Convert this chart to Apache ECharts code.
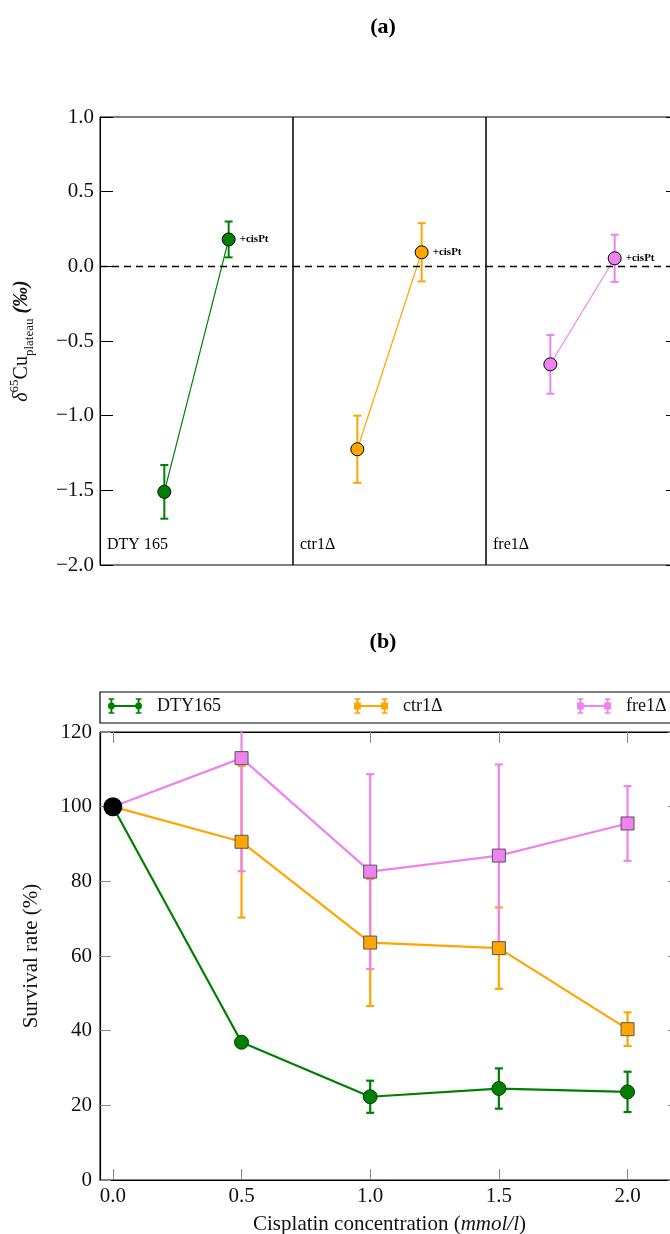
<!DOCTYPE html>
<html>
<head>
<meta charset="utf-8">
<script src="https://cdn.jsdelivr.net/npm/echarts@6/dist/echarts.min.js"></script>
<style>html,body{margin:0;padding:0;background:#fff;}#c{width:670px;height:1234px;}</style>
</head>
<body>
<div id="c"></div>
<script>
// ---------- Panel (a) data ----------
const aGroups = ['DTY 165', 'ctr1Δ', 'fre1Δ'];
const aPos = [1, 2];                       // before / +cisPt positions
const aBefore = [-1.51, -1.225, -0.656];
const aBeforeErr = [0.18, 0.225, 0.197];
const aAfter = [0.18, 0.094, 0.054];
const aAfterErr = [0.12, 0.195, 0.158];
const aPointLabel = '+cisPt';
const aYTicks = [-2.0, -1.5, -1.0, -0.5, 0.0, 0.5, 1.0];

// ---------- Panel (b) data ----------
const bSeriesNames = ['DTY165', 'ctr1Δ', 'fre1Δ'];
const conc = [0, 0.5, 1.0, 1.5, 2.0];
const dtyMean = [100, 36.9, 22.3, 24.5, 23.6];
const dtyErr  = [0, 0.8, 4.3, 5.4, 5.4];
const ctrMean = [100, 90.6, 63.6, 62.1, 40.4];
const ctrErr  = [0, 20.3, 17.0, 10.9, 4.5];
const freMean = [100, 113.0, 82.6, 86.9, 95.5];
const freErr  = [0, 30.3, 26.1, 24.4, 10.0];
const bXTicks = [0, 0.5, 1.0, 1.5, 2.0];

// ---------- styles ----------
const SERIF = '"Liberation Serif", "DejaVu Serif", serif';
const COLORS = ['#008000', '#FFA500', '#EE82EE'];
const fmtMinus = v => (v < 0 ? '\u2212' : '') + Math.abs(v).toFixed(1);

function errRender(color, lw, capW) {
  return function (params, api) {
    const x = api.value(0), m = api.value(1), e = api.value(2);
    if (!e) return null;
    const top = api.coord([x, m + e]);
    const bot = api.coord([x, m - e]);
    const cs = params.coordSys;
    const yTop = Math.max(top[1], cs.y);
    const yBot = Math.min(bot[1], cs.y + cs.height);
    const st = { stroke: color, lineWidth: lw };
    const ch = [{ type: 'line', shape: { x1: top[0], y1: yTop, x2: top[0], y2: yBot }, style: st }];
    if (top[1] >= cs.y) ch.push({ type: 'line', shape: { x1: top[0] - capW / 2, y1: top[1], x2: top[0] + capW / 2, y2: top[1] }, style: st });
    if (bot[1] <= cs.y + cs.height) ch.push({ type: 'line', shape: { x1: bot[0] - capW / 2, y1: bot[1], x2: bot[0] + capW / 2, y2: bot[1] }, style: st });
    return { type: 'group', children: ch };
  };
}

const chart = echarts.init(document.getElementById('c'), null, { renderer: 'canvas' });

const A_TOP = 117, A_H = 448, A_LEFT = 100, A_W = 193;
const B_TOP = 732, B_H = 448, B_LEFT = 100, B_W = 579;

const grids = [0, 1, 2].map(i => ({
  left: A_LEFT + i * A_W, top: A_TOP, width: A_W, height: A_H,
  outerBoundsMode: 'none', containLabel: false,
  show: true, borderColor: '#000', borderWidth: 1, backgroundColor: 'transparent'
}));
grids.push({ left: B_LEFT, top: B_TOP, width: B_W, height: B_H, outerBoundsMode: 'none', containLabel: false,
  show: true, borderColor: '#000', borderWidth: 1 });

const xAxes = [0, 1, 2].map(i => ({ gridIndex: i, type: 'value', min: 0, max: 3, show: false }));
const tickGrey = { show: true, inside: true, length: 11, lineStyle: { color: '#888', width: 1 } };
xAxes.push({
  gridIndex: 3, type: 'value', min: -0.05, max: 2.2, position: 'bottom',
  axisLine: { show: true, onZero: false, lineStyle: { color: '#000', width: 1.2 } },
  axisTick: Object.assign({ customValues: bXTicks }, tickGrey),
  axisLabel: { customValues: bXTicks, formatter: v => v.toFixed(1), fontFamily: SERIF, fontSize: 21, color: '#111', margin: 6 },
  splitLine: { show: false },
  name: '{n|Cisplatin concentration (}{i|mmol/l}{n|)}', nameLocation: 'middle', nameGap: 34,
  nameTextStyle: { rich: {
    n: { fontFamily: SERIF, fontSize: 21, color: '#111' },
    i: { fontFamily: SERIF, fontSize: 21, fontStyle: 'italic', color: '#111' } } }
});
xAxes.push({
  gridIndex: 3, type: 'value', min: -0.05, max: 2.2, position: 'top',
  axisLine: { show: true, onZero: false, lineStyle: { color: '#000' } },
  axisTick: Object.assign({ customValues: bXTicks }, tickGrey),
  axisLabel: { show: false }, splitLine: { show: false }
});

const yAxes = [
  {
    gridIndex: 0, type: 'value', min: -2, max: 1, interval: 0.5,
    axisLine: { show: true, onZero: false, lineStyle: { color: '#000' } },
    axisTick: { show: true, inside: true, length: 13, lineStyle: { color: '#000' } },
    axisLabel: { formatter: fmtMinus, fontFamily: SERIF, fontSize: 21, color: '#111', margin: 6 },
    splitLine: { show: false },
    name: '{d|δ}{sup|65}{n|Cu}{sub|plateau}{n| }{b|(‰)}', nameLocation: 'middle', nameRotate: 90, nameGap: 64,
    nameTextStyle: { rich: {
      d: { fontFamily: SERIF, fontSize: 20, fontStyle: 'italic', color: '#111', lineHeight: 28 },
      sup: { fontFamily: SERIF, fontSize: 13, color: '#111', verticalAlign: 'top', lineHeight: 14 },
      n: { fontFamily: SERIF, fontSize: 20, color: '#111', lineHeight: 28 },
      sub: { fontFamily: SERIF, fontSize: 13, color: '#111', verticalAlign: 'bottom', lineHeight: 12 },
      b: { fontFamily: SERIF, fontSize: 20, fontWeight: 'bold', fontStyle: 'italic', color: '#111', lineHeight: 28 } } }
  },
  { gridIndex: 1, type: 'value', min: -2, max: 1, show: false },
  {
    gridIndex: 2, type: 'value', min: -2, max: 1, interval: 0.5, position: 'right',
    axisLine: { show: true, onZero: false, lineStyle: { color: '#000' } },
    axisTick: { show: true, inside: true, length: 13, lineStyle: { color: '#000' } },
    axisLabel: { show: false }, splitLine: { show: false }
  },
  {
    gridIndex: 3, type: 'value', min: 0, max: 120, interval: 20,
    axisLine: { show: true, onZero: false, lineStyle: { color: '#000', width: 1.2 } },
    axisTick: tickGrey,
    axisLabel: { fontFamily: SERIF, fontSize: 21, color: '#111', margin: 8 },
    splitLine: { show: false },
    name: 'Survival rate (%)', nameLocation: 'middle', nameRotate: 90, nameGap: 58,
    nameTextStyle: { fontFamily: SERIF, fontSize: 21, color: '#111' }
  },
  {
    gridIndex: 3, type: 'value', min: 0, max: 120, interval: 20, position: 'right',
    axisLine: { show: true, onZero: false, lineStyle: { color: '#000' } },
    axisTick: tickGrey, axisLabel: { show: false }, splitLine: { show: false }
  }
];

const series = [];
// Panel (a)
[0, 1, 2].forEach(i => {
  series.push({
    type: 'custom', xAxisIndex: i, yAxisIndex: i, z: 2, silent: true,
    renderItem: errRender(COLORS[i], 2, 8),
    data: [[aPos[0], aBefore[i], aBeforeErr[i]], [aPos[1], aAfter[i], aAfterErr[i]]]
  });
  series.push({
    type: 'line', name: 'a_' + aGroups[i], xAxisIndex: i, yAxisIndex: i, z: 3,
    symbol: 'circle', symbolSize: 13,
    lineStyle: { color: COLORS[i], width: 1.2 },
    itemStyle: { color: COLORS[i], borderColor: '#000', borderWidth: 1 },
    data: [
      [aPos[0], aBefore[i]],
      { value: [aPos[1], aAfter[i]], label: { show: true, position: 'right', distance: 4, formatter: aPointLabel,
        fontFamily: SERIF, fontSize: 11, color: '#000', fontWeight: 'bold' } }
    ],
    markLine: {
      silent: true, symbol: 'none', animation: false,
      label: { show: false },
      lineStyle: { color: '#000', type: [7, 5], width: 1.3 },
      data: [{ yAxis: 0 }]
    }
  });
});

// Panel (b)
const bMeans = [dtyMean, ctrMean, freMean];
const bErrs = [dtyErr, ctrErr, freErr];
const bSym = ['circle', 'rect', 'rect'];
const bSymSize = [14, 13, 13];
const bBorder = ['#0b3d0b', '#555', '#555'];
[0, 1, 2].forEach(i => {
  series.push({
    type: 'custom', xAxisIndex: 3, yAxisIndex: 3, z: 2, silent: true,
    renderItem: errRender(COLORS[i], 2.2, 8),
    data: conc.map((x, j) => [x, bMeans[i][j], bErrs[i][j]])
  });
});
[0, 1, 2].forEach(i => {
  series.push({
    type: 'line', name: bSeriesNames[i], xAxisIndex: 3, yAxisIndex: 3, z: 3 + i,
    symbol: bSym[i], symbolSize: bSymSize[i],
    lineStyle: { color: COLORS[i], width: 2.2 },
    itemStyle: { color: COLORS[i], borderColor: bBorder[i], borderWidth: 1 },
    data: conc.map((x, j) => j === 0 ? { value: [x, bMeans[i][j]], symbolSize: 0 } : [x, bMeans[i][j]])
  });
});
series.push({
  type: 'scatter', name: 'start', xAxisIndex: 3, yAxisIndex: 3, z: 10,
  symbol: 'circle', symbolSize: 19, itemStyle: { color: '#000', opacity: 1 },
  data: [[conc[0], dtyMean[0]]]
});

// legend icons
const errIcon = 'M0 2h6v1.5h-6Z M0 16.5h6v1.5h-6Z M2 2h2v16h-2Z M28 2h6v1.5h-6Z M28 16.5h6v1.5h-6Z M30 2h2v16h-2Z M3 9h28v2h-28Z ';
const circIcon = 'path://' + errIcon + 'M-0.5 10a3.5 3.5 0 1 1 7 0a3.5 3.5 0 1 1 -7 0Z M27.5 10a3.5 3.5 0 1 1 7 0a3.5 3.5 0 1 1 -7 0Z';
const sqIcon = 'path://' + errIcon + 'M-0.5 6.5h7v7h-7Z M27.5 6.5h7v7h-7Z';
const legendLeft = [108, 354, 577];
const legends = [0, 1, 2].map(i => ({
  data: [{ name: bSeriesNames[i], icon: i === 0 ? circIcon : sqIcon }],
  left: legendLeft[i], top: 697, padding: 0, itemWidth: 34, itemHeight: 20,
  selectedMode: false,
  itemStyle: { borderWidth: 0 },
  textStyle: { fontFamily: SERIF, fontSize: 18, color: '#111', padding: [0, 0, 0, 10] }
}));

const graphics = [
  { type: 'text', x: 383, y: 27, style: { text: '(a)', font: 'bold 22px ' + SERIF, fill: '#000', textAlign: 'center', textVerticalAlign: 'middle' } },
  { type: 'text', x: 383, y: 642, style: { text: '(b)', font: 'bold 22px ' + SERIF, fill: '#000', textAlign: 'center', textVerticalAlign: 'middle' } },
  { type: 'rect', shape: { x: 100, y: 692, width: 600, height: 31 }, style: { fill: 'none', stroke: '#000', lineWidth: 1.2 } }
];
aGroups.forEach((g, i) => {
  graphics.push({ type: 'text', x: A_LEFT + i * A_W + 7, y: 545,
    style: { text: g, font: '16px ' + SERIF, fill: '#000', textAlign: 'left', textVerticalAlign: 'middle' } });
});

chart.setOption({
  animation: false,
  backgroundColor: '#fff',
  grid: grids,
  xAxis: xAxes,
  yAxis: yAxes,
  legend: legends,
  series: series,
  graphic: graphics
});
</script>
</body>
</html>
